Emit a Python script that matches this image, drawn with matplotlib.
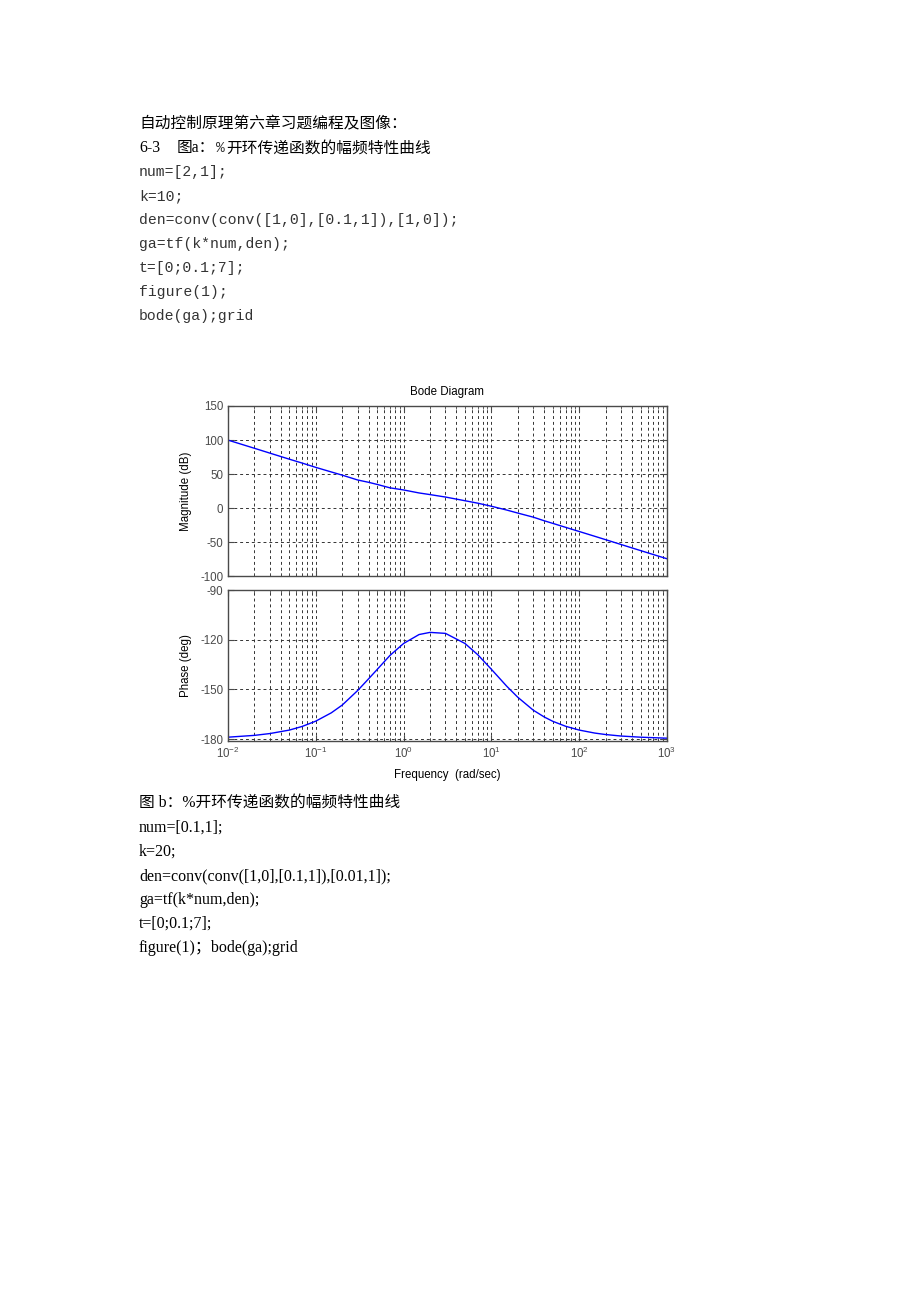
import matplotlib
matplotlib.use('Agg')
import matplotlib.pyplot as plt
import numpy as np
from matplotlib.ticker import LogLocator, NullFormatter

plt.rcParams['font.family'] = ['Liberation Sans', 'DejaVu Sans']
plt.rcParams['mathtext.fontset'] = 'custom'
plt.rcParams['mathtext.rm'] = 'Liberation Sans'
plt.rcParams['mathtext.default'] = 'regular'
plt.rcParams['axes.unicode_minus'] = False

# values
freq = [0.01, 0.02, 0.03, 0.05, 0.07, 0.1, 0.15, 0.2, 0.3, 0.4, 0.5, 0.7, 1,
        1.5, 2, 3, 5, 7, 10, 15, 20, 30, 40, 50, 70, 100, 150, 200, 300, 500, 1000]
mag_db = [100, 88, 80.9, 72, 66.3, 60, 53.3, 48.6, 41.5, 38.1, 35, 30, 26.9,
          22.5, 20.1, 16.5, 11.1, 7.5, 3, -2.6, -7, -13, -18.3, -22.1, -27.9,
          -34, -41, -46, -53.1, -62, -74]
phase_deg = [-178.9, -177.8, -176.7, -174.6, -172.4, -169.2, -164.2, -159.5,
             -150.7, -143.6, -138, -129.5, -122.3, -116.9, -115.6, -116.2,
             -122.3, -129.1, -137.9, -148.2, -154.8, -162.6, -166.7, -169.3,
             -172.3, -174.6, -176.4, -177.3, -178.2, -178.9, -179.5]

mag_ticks = [-100, -50, 0, 50, 100, 150]
phase_ticks = [-180, -150, -120, -90]

code_a = ['num=[2,1];', 'k=10;', 'den=conv(conv([1,0],[0.1,1]),[1,0]);',
          'ga=tf(k*num,den);', 't=[0;0.1;7];', 'figure(1);', 'bode(ga);grid']
code_b = ['num=[0.1,1];', 'k=20;', 'den=conv(conv([1,0],[0.1,1]),[0.01,1]);',
          'ga=tf(k*num,den);', 't=[0;0.1;7];', 'figure(1)；bode(ga);grid']

W, H = 920, 1302
fig = plt.figure(figsize=(W / 100, H / 100), dpi=100)


def put(x, y, s, **kw):
    fig.text(x / W, 1 - y / H, s, va='center', ha='left', **kw)


cjk = ['Noto Sans CJK SC']
serif = ['Liberation Serif', 'Noto Sans CJK SC']
mono = ['Liberation Mono', 'Noto Sans CJK SC']

put(139, 124, '自动控制原理第六章习题编程及图像：', family=cjk, fontsize=11.3)
put(139, 148, '6-3', family=serif, fontsize=11.5)
put(177, 148, '图a：', family=serif, fontsize=11.3)
put(216, 148, '%', family=mono, fontsize=10.5, color='#333333')
put(226, 148, '开环传递函数的幅频特性曲线', family=cjk, fontsize=11.3)
for i, s in enumerate(code_a):
    put(139, 172 + 24 * i, s, family=mono, fontsize=10.6, color='#333333')

put(139, 803, '图 b：%开环传递函数的幅频特性曲线', family=serif, fontsize=11.3)
for i, s in enumerate(code_b):
    put(139, 828 + 24 * i, s, family=serif, fontsize=11.5)

# bode axes
ax1 = fig.add_axes([228 / W, 1 - 576.5 / H, 439 / W, 170.5 / H])
ax2 = fig.add_axes([228 / W, 1 - 741 / H, 439 / W, 151 / H])

ax1.plot(freq, mag_db, color='#0000ff', lw=1.0)
ax2.plot(freq, phase_deg, color='#0000ff', lw=1.0)

ax1.set_ylim(-100, 150)
ax1.set_yticks(mag_ticks)
ax2.set_ylim(-181.2, -90)
ax2.set_yticks(phase_ticks)

for ax in (ax1, ax2):
    ax.set_xscale('log')
    ax.set_xlim(1e-2, 1e3)
    ax.xaxis.set_major_locator(LogLocator(base=10, numticks=10))
    ax.xaxis.set_minor_locator(LogLocator(base=10, subs=np.arange(2, 10), numticks=20))
    ax.xaxis.set_minor_formatter(NullFormatter())
    ax.tick_params(which='both', direction='in', top=True, right=True,
                   colors='#4a4a4a', labelsize=8.3, pad=3.5)
    ax.tick_params(which='major', length=4)
    ax.tick_params(which='minor', length=2)
    ax.grid(True, which='both', axis='x', color='#333333', lw=0.7, ls=(0, (3, 3)))
    ax.grid(True, which='major', axis='y', color='#333333', lw=0.7, ls=(0, (3, 3)))
    for sp in ax.spines.values():
        sp.set_color('#4a4a4a')
        sp.set_linewidth(1.0)

ax1.tick_params(labelbottom=False)

ax1.text(0.5, 1 + 14 / 170.5, 'Bode Diagram', transform=ax1.transAxes,
         ha='center', va='center', fontsize=8.3)
ax1.set_ylabel('Magnitude (dB)', fontsize=8.3, va='center')
ax1.yaxis.set_label_coords(-42 / 439, 0.5)
ax2.set_ylabel('Phase (deg)', fontsize=8.3, va='center')
ax2.yaxis.set_label_coords(-42 / 439, 0.5)
ax2.set_xlabel('Frequency  (rad/sec)', fontsize=8.3, va='center')
ax2.xaxis.set_label_coords(0.5, -34 / 151)

fig.savefig('out.png', dpi=100)
